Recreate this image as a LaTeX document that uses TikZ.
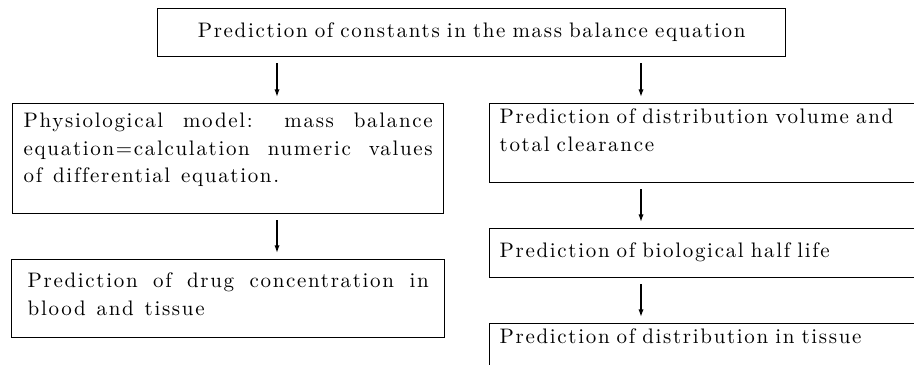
\documentclass[tikz,border=0pt]{standalone}
\usepackage{fontspec}
\usepackage{tikz}
\usetikzlibrary{arrows.meta}

\newfontfamily\spacedrm{lmroman10-regular.otf}[LetterSpace=8,WordSpace=1.25,Ligatures=CommonOff]
\newcommand{\boxfont}{\spacedrm\fontsize{10.5}{13.75}\selectfont}

\begin{document}
\begin{tikzpicture}[x=0.5pt, y=-0.5pt,
  box/.style={draw, line width=0.7pt, anchor=north west, inner ysep=0pt, font=\boxfont},
  arr/.style={-{Latex[length=3.8pt,width=2.6pt]}, line width=0.7pt, shorten <=3pt, shorten >=3pt}]

  \useasboundingbox (0,0) rectangle (914,364);
  \clip (0,0) rectangle (914,364);

  % Boxes
  \node[box, inner xsep=9pt, text width=296pt, align=center, text height=14.5pt, text depth=9.5pt]
    (consts) at (157,8) {Prediction of constants in the mass balance equation};

  \node[box, inner xsep=5.5pt, text width=204.5pt, align=justify, text height=12pt, text depth=43pt]
    (model) at (12,103) {Physiological model: mass balance\linebreak
      equation=calculation numeric values\linebreak of differential equation.};
  \node[box, inner xsep=8pt, text width=200.5pt, align=justify, text height=14pt, text depth=25pt]
    (drugconc) at (11,259) {Prediction of drug concentration in\linebreak blood and tissue};

  \node[box, inner xsep=5pt, text width=215pt, align=left, text height=10pt, text depth=29.5pt]
    (volume) at (489,103) {Prediction of distribution volume and\\ total clearance};
  \node[box, inner xsep=5pt, text width=215pt, align=left, text height=14.5pt, text depth=10pt]
    (halflife) at (489,228) {Prediction of biological half life};
  \node[box, inner xsep=5pt, text width=215pt, align=left, text height=10pt, text depth=20pt]
    (tissue) at (489,323) {Prediction of distribution in tissue};

  % Arrows
  \coordinate (colL) at (277,0);
  \coordinate (colR) at (641,0);
  \draw[arr] (consts.south -| colL) -- (model.north -| colL);
  \draw[arr] (consts.south -| colR) -- (volume.north -| colR);
  \draw[arr] (model.south -| colL) -- (drugconc.north -| colL);
  \draw[arr] (volume.south -| colR) -- (halflife.north -| colR);
  \draw[arr] (halflife.south -| colR) -- (tissue.north -| colR);

\end{tikzpicture}
\end{document}
